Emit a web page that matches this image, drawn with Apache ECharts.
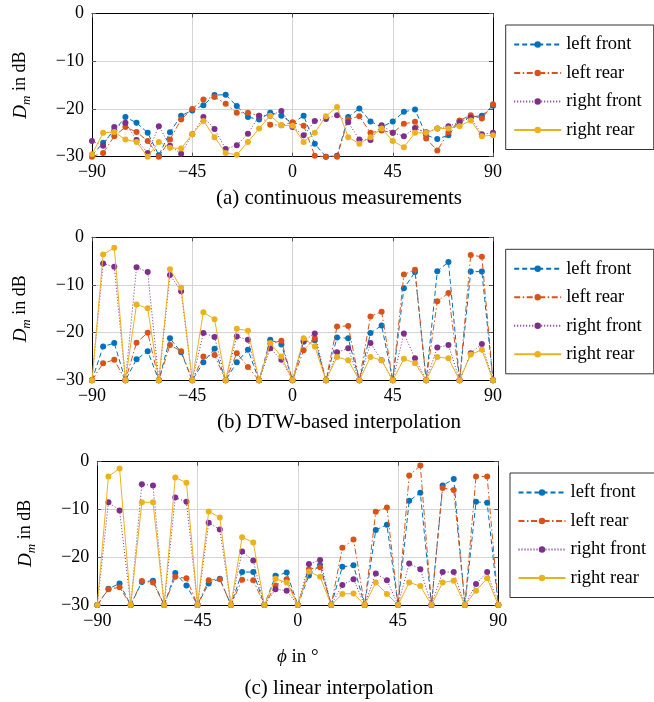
<!DOCTYPE html>
<html>
<head>
<meta charset="utf-8">
<script src="https://cdn.jsdelivr.net/npm/echarts@6/dist/echarts.min.js"></script>
<style>html,body{margin:0;padding:0;background:#fff;}#c{width:654px;height:702px;}</style>
</head>
<body>
<div id="c"></div>
<script>
const angles = [-90,-85,-80,-75,-70,-65,-60,-55,-50,-45,-40,-35,-30,-25,-20,-15,-10,-5,0,5,10,15,20,25,30,35,40,45,50,55,60,65,70,75,80,85,90];
const seriesNames = ['left front','left rear','right front','right rear'];
const xTicks = [-90,-45,0,45,90];
const yTicks = [0,-10,-20,-30];

// (a) continuous measurements
const leftFrontA  = [-29.7,-27.1,-24.5,-21.7,-22.9,-25.0,-29.7,-24.9,-21.4,-20.3,-19.2,-17.1,-17.0,-19.4,-21.7,-22.2,-20.8,-21.4,-23.0,-21.4,-27.3,-30,-29.8,-21.7,-19.9,-22.6,-23.8,-22.6,-20.6,-20.1,-25.5,-26.3,-25.5,-22.5,-21.7,-21.4,-19.3];
const leftRearA   = [-30,-29.2,-25.7,-23.8,-24.8,-26.7,-30,-26.4,-22.2,-20.0,-18.0,-17.5,-18.9,-20.8,-20.8,-21.4,-23.3,-23.4,-22.8,-23.5,-29.8,-30,-30,-22.2,-21.5,-25.0,-24.5,-25.0,-23.1,-22.7,-26.2,-28.7,-24.9,-22.4,-21.3,-22.0,-19.0];
const rightFrontA = [-26.7,-27.7,-23.8,-22.9,-26.5,-29.2,-23.6,-27.7,-29.4,-25.3,-21.7,-24.2,-28.4,-27.6,-25.2,-21.4,-21.4,-20.4,-23.8,-25.5,-22.5,-22.1,-21.3,-22.8,-26.4,-26.5,-23.4,-25.0,-25.7,-24.0,-24.9,-24.1,-23.6,-22.8,-21.8,-25.3,-25.0];
const rightRearA  = [-29.5,-25.0,-24.8,-26.4,-26.9,-30,-26.9,-28.1,-28.3,-25.3,-22.5,-25.9,-29.2,-29.6,-26.9,-24.1,-21.4,-23.4,-23.5,-26.9,-25.0,-21.5,-19.6,-25.9,-27.3,-25.9,-24.1,-26.7,-28.0,-25.0,-25.0,-24.1,-24.1,-23.6,-22.4,-25.7,-25.5];

// (b) DTW-based interpolation
const leftFrontB  = [-30,-22.9,-22.2,-30,-25.6,-23.9,-30,-21.2,-24.1,-30,-26.2,-23.4,-30,-26.2,-23.6,-30,-21.5,-22.5,-30,-21.9,-21.6,-30,-21.0,-21.2,-30,-20.1,-18.5,-30,-10.7,-7.3,-30,-7.1,-5.2,-30,-7.2,-7.2,-30];
const leftRearB   = [-30,-26.4,-25.7,-30,-22.1,-20.0,-30,-22.6,-23.9,-30,-25.0,-24.7,-30,-24.3,-27.2,-30,-22.3,-21.7,-30,-23.7,-21.2,-30,-18.7,-18.6,-30,-16.6,-15.6,-30,-7.8,-6.8,-30,-13.4,-11.7,-30,-3.7,-4.1,-30];
const rightFrontB = [-30,-5.5,-6.2,-30,-6.3,-7.3,-30,-7.9,-11.3,-30,-20.1,-20.9,-30,-20.8,-21.5,-30,-23.3,-25.7,-30,-21.7,-20.2,-30,-24.1,-23.3,-30,-22.2,-25.8,-30,-20.2,-25.4,-30,-23.1,-22.6,-30,-24.3,-22.4,-30];
const rightRearB  = [-30,-3.6,-2.2,-30,-14.1,-14.9,-30,-6.7,-10.6,-30,-15.7,-17.2,-30,-19.2,-19.6,-30,-22.2,-25.0,-30,-21.2,-22.9,-30,-25.1,-25.8,-30,-25.1,-25.8,-30,-25.5,-26.4,-30,-25.1,-25.4,-30,-24.6,-23.6,-30];

// (c) linear interpolation
const leftFrontC  = [-30,-26.6,-25.5,-30,-25.2,-24.9,-30,-23.3,-25.9,-30,-25.5,-24.5,-30,-23.1,-23.1,-30,-23.9,-23.2,-30,-23.8,-21.6,-30,-22.0,-21.7,-30,-14.3,-13.2,-30,-8.2,-6.5,-30,-5.0,-3.6,-30,-8.4,-8.6,-30];
const leftRearC   = [-30,-26.7,-26.3,-30,-25.0,-25.3,-30,-24.1,-24.4,-30,-24.8,-24.6,-30,-24.7,-24.8,-30,-25.9,-24.6,-30,-22.5,-22.1,-30,-18.0,-16.3,-30,-10.5,-9.6,-30,-2.9,-0.8,-30,-5.5,-5.9,-30,-3.1,-3.1,-30];
const rightFrontC = [-30,-8.5,-10.2,-30,-4.7,-5.0,-30,-7.5,-8.4,-30,-12.8,-14.2,-30,-18.8,-20.7,-30,-26.7,-27.0,-30,-21.4,-20.6,-30,-25.8,-24.6,-30,-23.4,-24.8,-30,-21.3,-22.5,-30,-23.1,-23.1,-30,-25.6,-23.1,-30];
const rightRearC  = [-30,-3.1,-1.4,-30,-8.5,-8.5,-30,-3.3,-4.4,-30,-10.4,-11.7,-30,-15.8,-16.9,-30,-24.5,-25.3,-30,-23.0,-24.1,-30,-27.7,-27.6,-30,-25.3,-27.7,-30,-25.3,-26.0,-30,-25.3,-24.9,-30,-27.0,-24.4,-30];

const captions = ['(a) continuous measurements','(b) DTW-based interpolation','(c) linear interpolation'];

const panels = [
  [leftFrontA, leftRearA, rightFrontA, rightRearA],
  [leftFrontB, leftRearB, rightFrontB, rightRearB],
  [leftFrontC, leftRearC, rightFrontC, rightRearC]
];

const colors = ['#0072BD','#D95319','#7E2F8E','#EDB120'];
const dashes = [[5,3],[6,2.5,1.5,2.5],[1,2],'solid'];
const FONT = 'Liberation Serif';

const grids = [
  {left: 92, top: 13.5, width: 401, height: 143.2},
  {left: 92, top: 237.3, width: 401, height: 143},
  {left: 97.3, top: 461.7, width: 401, height: 143.3}
];
const legendPos = [
  {left: 505.7, top: 25},
  {left: 505.7, top: 249.3},
  {left: 510, top: 473}
];

const xAxis = [], yAxis = [], series = [], legend = [];
grids.forEach((g, gi) => {
  const tick = {show: true, inside: true, length: 4, lineStyle: {color: '#555', width: 1}};
  xAxis.push({
    type: 'value', gridIndex: gi, min: xTicks[0], max: xTicks[xTicks.length-1], interval: 45,
    axisLine: {show: true, onZero: false, lineStyle: {color: '#000', width: 1}},
    axisTick: tick,
    axisLabel: {color: '#000', fontFamily: FONT, fontSize: 18, margin: 7,
      formatter: v => (v < 0 ? '\u2212' + Math.abs(v) : String(v))},
    splitLine: {show: true, lineStyle: {color: '#d4d4d4', width: 1}}
  });
  xAxis.push({
    type: 'value', gridIndex: gi, position: 'top', min: -90, max: 90, interval: 45,
    axisLine: {show: true, onZero: false, lineStyle: {color: '#000', width: 1}},
    axisTick: tick, axisLabel: {show: false}, splitLine: {show: false}
  });
  yAxis.push({
    type: 'value', gridIndex: gi, min: -30, max: 0, interval: 10,
    axisLine: {show: true, onZero: false, lineStyle: {color: '#000', width: 1}},
    axisTick: tick,
    axisLabel: {color: '#000', fontFamily: FONT, fontSize: 18, margin: 8,
      formatter: v => (v < 0 ? '\u2212' + Math.abs(v) : String(v))},
    splitLine: {show: true, lineStyle: {color: '#d4d4d4', width: 1}},
    name: '{i|D}{s|m}{t| in dB}',
    nameLocation: 'middle', nameGap: 62, nameRotate: 90,
    nameTextStyle: {
      color: '#000', fontFamily: FONT, fontSize: 18,
      rich: {
        i: {fontFamily: FONT, fontSize: 19, fontStyle: 'italic', color: '#000', lineHeight: 19, verticalAlign: 'top'},
        s: {fontFamily: FONT, fontSize: 13, fontStyle: 'italic', color: '#000', lineHeight: 13, padding: [9,0,0,0], verticalAlign: 'top'},
        t: {fontFamily: FONT, fontSize: 18, color: '#000', lineHeight: 19, verticalAlign: 'top'}
      }
    }
  });
  yAxis.push({
    type: 'value', gridIndex: gi, position: 'right', min: -30, max: 0, interval: 10,
    axisLine: {show: true, onZero: false, lineStyle: {color: '#000', width: 1}},
    axisTick: tick, axisLabel: {show: false}, splitLine: {show: false}
  });
  panels[gi].forEach((vals, si) => {
    series.push({
      name: seriesNames[si], type: 'line',
      xAxisIndex: gi * 2, yAxisIndex: gi * 2,
      data: angles.map((a, k) => [a, vals[k]]),
      symbol: 'circle', symbolSize: 6, showSymbol: true,
      itemStyle: {color: colors[si]},
      lineStyle: {color: colors[si], width: 1, type: dashes[si]},
      animation: false, z: 2 + si
    });
  });
  legend.push({
    data: seriesNames, orient: 'vertical', left: legendPos[gi].left, top: legendPos[gi].top,
    itemWidth: 47, itemHeight: 8, itemGap: 9.5,
    padding: [10, 12, 10, 7.5],
    borderColor: '#333', borderWidth: 1, backgroundColor: '#fff',
    textStyle: {color: '#000', fontFamily: FONT, fontSize: 18.5, lineHeight: 18},
    selectedMode: false
  });
});

const graphic = [];
const capY = [198, 422, 688];
captions.forEach((c, i) => {
  graphic.push({type: 'text', left: 'center', top: 0, silent: true,
    style: {text: c, x: 339, y: capY[i], align: 'center', verticalAlign: 'middle',
      fontFamily: FONT, fontSize: 21, fill: '#000'}});
});
graphic.push({type: 'text', silent: true,
  style: {text: '{i|\u03d5} in \u00b0', x: 297.8, y: 657, align: 'center', verticalAlign: 'middle',
    fontFamily: FONT, fontSize: 19, fill: '#000',
    rich: {i: {fontFamily: FONT, fontSize: 19, fontStyle: 'italic', fill: '#000'}}}});

const chart = echarts.init(document.getElementById('c'), null, {renderer: 'canvas'});
chart.setOption({
  animation: false,
  grid: grids.map(g => Object.assign({show: false, containLabel: false}, g)),
  xAxis, yAxis, series, legend,
  graphic: graphic.map(g => { const o = Object.assign({}, g); delete o.left; delete o.top; return o; })
});
</script>
</body>
</html>
